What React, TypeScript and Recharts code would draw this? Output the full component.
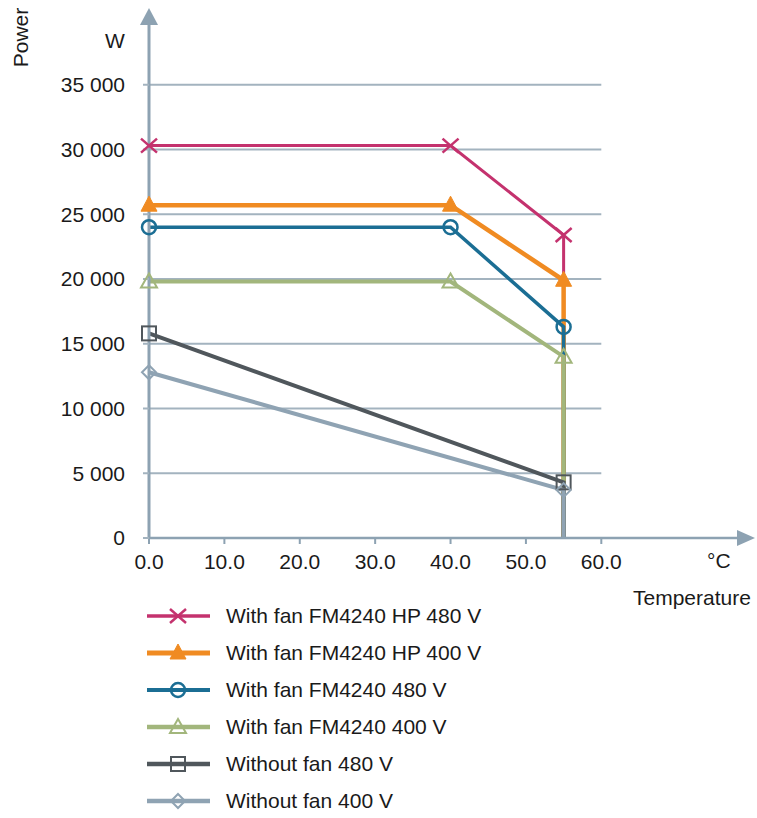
import { LineChart, Line, XAxis, YAxis, ReferenceLine, ReferenceDot } from "recharts";

// temperature (°C) positions of the points
const tempWithFan = [0, 40, 55, 55];
const tempNoFan = [0, 55, 55];

// power (W)
const fanHp480 = [30300, 30300, 23400, 0];
const fanHp400 = [25700, 25700, 19900, 0];
const fan480 = [24000, 24000, 16300, 0];
const fan400 = [19800, 19800, 14000, 0];
const noFan480 = [15800, 4300, 0];
const noFan400 = [12800, 3700, 0];

const seriesNames = [
  "With fan FM4240 HP 480 V",
  "With fan FM4240 HP 400 V",
  "With fan FM4240 480 V",
  "With fan FM4240 400 V",
  "Without fan 480 V",
  "Without fan 400 V",
];

const xTicks = [0, 10, 20, 30, 40, 50, 60];
const yTicks = [0, 5000, 10000, 15000, 20000, 25000, 30000, 35000];

const FONT = "'Liberation Sans', Arial, sans-serif";
const AXIS = "#8da2b2";
const GRID = "#a3b3bf";

type Kind = "cross" | "triFill" | "circle" | "tri" | "square" | "diamond";

const toPoints = (t: number[], p: number[]) => t.map((x, i) => ({ t: x, p: p[i] }));

const series: { name: string; data: { t: number; p: number }[]; color: string; width: number; kind: Kind }[] = [
  { name: seriesNames[0], data: toPoints(tempWithFan, fanHp480), color: "#c4326e", width: 3, kind: "cross" },
  { name: seriesNames[1], data: toPoints(tempWithFan, fanHp400), color: "#f08b22", width: 4.5, kind: "triFill" },
  { name: seriesNames[2], data: toPoints(tempWithFan, fan480), color: "#1b6e94", width: 3.5, kind: "circle" },
  { name: seriesNames[3], data: toPoints(tempWithFan, fan400), color: "#a2b67c", width: 4, kind: "tri" },
  { name: seriesNames[4], data: toPoints(tempNoFan, noFan480), color: "#50575c", width: 4, kind: "square" },
  { name: seriesNames[5], data: toPoints(tempNoFan, noFan400), color: "#8fa3b3", width: 4, kind: "diamond" },
];

function Marker({ kind, cx, cy, color }: { kind: Kind; cx: number; cy: number; color: string }) {
  switch (kind) {
    case "cross":
      return (
        <g stroke={color} strokeWidth={2.5}>
          <line x1={cx - 8} y1={cy - 7} x2={cx + 8} y2={cy + 7} />
          <line x1={cx - 8} y1={cy + 7} x2={cx + 8} y2={cy - 7} />
        </g>
      );
    case "triFill":
      return <polygon points={`${cx},${cy - 9} ${cx + 8},${cy + 6} ${cx - 8},${cy + 6}`} fill={color} stroke={color} strokeWidth={1} />;
    case "circle":
      return <circle cx={cx} cy={cy} r={7} fill="none" stroke={color} strokeWidth={2.5} />;
    case "tri":
      return <polygon points={`${cx},${cy - 8} ${cx + 8},${cy + 6} ${cx - 8},${cy + 6}`} fill="none" stroke={color} strokeWidth={2} />;
    case "square":
      return <rect x={cx - 7} y={cy - 7} width={14} height={14} fill="none" stroke={color} strokeWidth={2} />;
    default:
      return <polygon points={`${cx},${cy - 7} ${cx + 7},${cy} ${cx},${cy + 7} ${cx - 7},${cy}`} fill="none" stroke={color} strokeWidth={2} />;
  }
}

const fmtPower = (v: number) => (v === 0 ? "0" : `${v / 1000} 000`);

export default function App() {
  const textStyle = { position: "absolute" as const, fontFamily: FONT, fontSize: 21, color: "#1a1a1a", lineHeight: "21px", whiteSpace: "nowrap" as const };
  return (
    <div style={{ position: "absolute", left: 0, top: 0, width: 757, height: 818, background: "#fff", fontFamily: FONT }}>
      <LineChart width={757} height={600} margin={{ top: 20, right: 20, bottom: 22, left: 0 }}>
        {yTicks.slice(1).map((v) => (
          <ReferenceLine
            key={v}
            segment={[{ x: 0, y: v }, { x: 60, y: v }]}
            stroke={GRID}
            strokeWidth={2}
          />
        ))}
        <XAxis
          type="number"
          dataKey="t"
          domain={[0, 78]}
          ticks={xTicks}
          tickFormatter={(v: number) => v.toFixed(1)}
          stroke={AXIS}
          axisLine={{ stroke: AXIS, strokeWidth: 2.5 }}
          tickLine={{ stroke: AXIS, strokeWidth: 2 }}
          tickSize={6}
          tickMargin={10}
          height={40}
          tick={{ fill: "#1a1a1a", fontSize: 21, fontFamily: FONT }}
          allowDuplicatedCategory={false}
        />
        <YAxis
          type="number"
          domain={[0, 40000]}
          ticks={yTicks}
          tickFormatter={fmtPower}
          width={149}
          axisLine={{ stroke: AXIS, strokeWidth: 3 }}
          tickLine={{ stroke: GRID, strokeWidth: 2 }}
          tickSize={6}
          tickMargin={18}
          tick={{ fill: "#1a1a1a", fontSize: 21, fontFamily: FONT }}
        />
        {series.map((s) => (
          <Line
            key={s.name}
            data={s.data}
            dataKey="p"
            name={s.name}
            type="linear"
            stroke={s.color}
            strokeWidth={s.width}
            isAnimationActive={false}
            dot={(props: any) =>
              props.index < s.data.length - 1 ? (
                <Marker key={`d-${props.index}`} kind={s.kind} cx={props.cx} cy={props.cy} color={s.color} />
              ) : (
                <g key={`d-${props.index}`} />
              )
            }
            activeDot={false}
          />
        ))}
        <ReferenceDot
          x={0}
          y={40000}
          r={0}
          shape={(p: any) => (
            <polygon points={`${p.cx},${p.cy - 12} ${p.cx + 9},${p.cy + 5} ${p.cx - 9},${p.cy + 5}`} fill={AXIS} />
          )}
        />
        <ReferenceDot
          x={78}
          y={0}
          r={0}
          shape={(p: any) => (
            <polygon points={`${p.cx + 18},${p.cy} ${p.cx},${p.cy - 8} ${p.cx},${p.cy + 8}`} fill={AXIS} />
          )}
        />
      </LineChart>

      <div style={{ ...textStyle, left: -9, top: 27, transform: "rotate(-90deg)", transformOrigin: "center" }}>Power</div>
      <div style={{ ...textStyle, left: 105, top: 30 }}>W</div>
      <div style={{ ...textStyle, left: 707, top: 550 }}>°C</div>
      <div style={{ ...textStyle, left: 633, top: 587 }}>Temperature</div>

      {series.map((s, i) => (
        <div key={s.name} style={{ position: "absolute", left: 144, top: 616 + i * 37 - 11, height: 22, display: "flex", alignItems: "center" }}>
          <svg width={70} height={22}>
            <line x1={3} y1={11} x2={66} y2={11} stroke={s.color} strokeWidth={s.width + 0.5} />
            <Marker kind={s.kind} cx={34} cy={11} color={s.color} />
          </svg>
          <span style={{ marginLeft: 12, fontSize: 21, color: "#1a1a1a", fontFamily: FONT, whiteSpace: "nowrap" }}>{s.name}</span>
        </div>
      ))}
    </div>
  );
}
